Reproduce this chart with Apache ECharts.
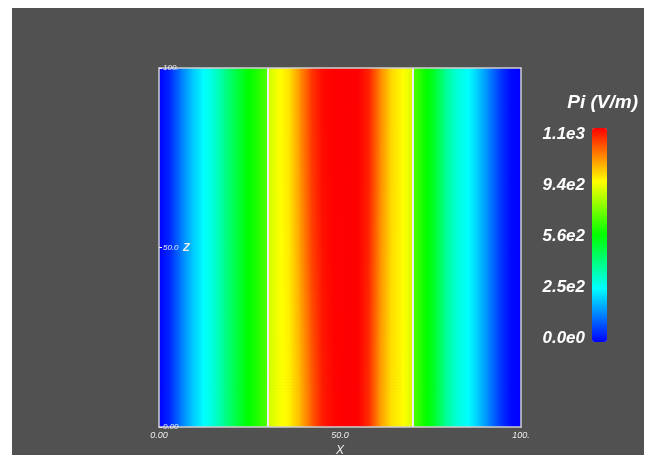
<!DOCTYPE html>
<html><head><meta charset="utf-8">
<script src="https://cdn.jsdelivr.net/npm/echarts@6/dist/echarts.min.js"></script>
<style>html,body{margin:0;padding:0;background:#fff}#c{width:651px;height:462px}</style>
</head><body><div id="c"></div>
<script>
// sample positions along X (duplicated near 30 and 70: material boundaries)
const xs = [0, 3, 6, 9, 12, 15, 18, 21, 24, 27, 29.99, 30.01, 33, 36, 39, 42, 45, 48, 50,
            52, 55, 58, 61, 64, 67, 69.99, 70.01, 73, 76, 79, 82, 85, 88, 91, 94, 97, 100];
// Z positions of the sampled rows (top to bottom)
const zRows = [100, 90, 70, 50, 30, 10, 0];
// Pi (V/m) values read per row
const rowZ90 = [0, 44, 132, 209, 270, 319, 396, 473, 539, 583, 638, 770, 820, 858, 946, 1040, 1089, 1100, 1100,
                1100, 1100, 1062, 957, 869, 831, 781, 638, 572, 506, 396, 319, 281, 220, 143, 66, 11, 0];
const rowZ70 = [0, 44, 132, 209, 270, 319, 396, 473, 539, 583, 638, 770, 819, 855, 940, 1033, 1086, 1100, 1100,
                1100, 1100, 1060, 953, 868, 831, 781, 638, 572, 506, 396, 319, 281, 220, 143, 66, 11, 0];
const rowZ50 = [0, 44, 132, 209, 270, 319, 396, 473, 539, 583, 638, 770, 818, 850, 930, 1025, 1080, 1099, 1100,
                1100, 1100, 1056, 947, 866, 831, 781, 638, 572, 506, 396, 319, 281, 220, 143, 66, 11, 0];
const rowZ30 = [0, 44, 132, 209, 270, 319, 396, 473, 539, 583, 638, 770, 816, 845, 918, 1010, 1075, 1097, 1100,
                1100, 1100, 1053, 941, 863, 831, 781, 638, 572, 506, 396, 319, 281, 220, 143, 66, 11, 0];
const rowZ10 = [0, 44, 132, 209, 270, 319, 396, 473, 539, 583, 638, 770, 815, 840, 905, 995, 1070, 1095, 1100,
                1100, 1100, 1050, 935, 860, 831, 781, 638, 572, 506, 396, 319, 281, 220, 143, 66, 11, 0];
// rows at z = 100 and z = 0 are taken as the nearest read rows
const rows = [rowZ90, rowZ90, rowZ70, rowZ50, rowZ30, rowZ10, rowZ10];
const boundaries = [30, 70];
const xTickLabels = {0: '0.00', 50: '50.0', 100: '100.'};
const zTickLabels = {0: '0.00', 50: '50.0', 100: '100.'};
const cbLabels = ['1.1e3', '9.4e2', '5.6e2', '2.5e2', '0.0e0'];
const vMin = 0, vMax = 1100;

const knots = [0, 0.25, 0.5, 0.75, 1];
const knotCols = [[0,0,255],[0,255,255],[0,255,0],[255,255,0],[255,0,0]];
function jet(t){
  t = Math.max(0, Math.min(1, t));
  let i = Math.min(3, Math.floor(t / 0.25));
  const f = (t - knots[i]) / 0.25;
  const a = knotCols[i], b = knotCols[i+1];
  const c = a.map((v, k) => Math.round(v + (b[k] - v) * f));
  return 'rgb(' + c.join(',') + ')';
}

// each cell: [x0, x1, zTop, zBottom, vTopLeft, vTopRight, vBottomLeft, vBottomRight]
const data = [];
for (let r = 0; r < zRows.length - 1; r++) {
  for (let i = 0; i < xs.length - 1; i++) {
    if (xs[i+1] - xs[i] < 0.1) continue;
    data.push([xs[i], xs[i+1], zRows[r], zRows[r+1], rows[r][i], rows[r][i+1], rows[r+1][i], rows[r+1][i+1]]);
  }
}

function gradFill(t0, t1){
  const stops = [{offset: 0, color: jet(t0)}];
  knots.forEach(k => { if ((k - t0) * (k - t1) < 0) stops.push({offset: (k - t0) / (t1 - t0), color: jet(k)}); });
  stops.push({offset: 1, color: jet(t1)});
  stops.sort((a, b) => a.offset - b.offset);
  return new echarts.graphic.LinearGradient(0, 0, 1, 0, stops);
}

function renderItem(params, api){
  const x0 = api.value(0), x1 = api.value(1), zt = api.value(2), zb = api.value(3);
  const n = v => (v - vMin) / (vMax - vMin);
  const a0 = n(api.value(4)), a1 = n(api.value(5)), b0 = n(api.value(6)), b1 = n(api.value(7));
  const p0 = api.coord([x0, zt]), p1 = api.coord([x1, zb]);
  const exR = x1 < 100 ? 0.7 : 0;
  const H = p1[1] - p0[1];
  const same = a0 === b0 && a1 === b1;
  const N = same ? 1 : Math.max(1, Math.round(H / 3));
  const children = [];
  for (let k = 0; k < N; k++) {
    const f = (k + 0.5) / N;
    const t0 = a0 + (b0 - a0) * f, t1 = a1 + (b1 - a1) * f;
    const y = p0[1] + H * k / N;
    const h = H / N + (zb > 0 || k < N - 1 ? 0.7 : 0);
    children.push({type: 'rect', shape: {x: p0[0], y: y, width: p1[0] - p0[0] + exR, height: h},
                   style: {fill: gradFill(t0, t1)}});
  }
  return {type: 'group', children: children};
}

const FONT = '"Liberation Sans", Arial, sans-serif';
const cbTop = 134, cbStep = 51;
const graphics = [
  {type: 'rect', z: -10, shape: {x: 12, y: 8, width: 632, height: 447}, style: {fill: '#515151'}},
  {type: 'text', z: 100, x: 638, y: 103, style: {text: 'Pi (V/m)', fill: '#ffffff', font: 'italic bold 19px ' + FONT, textAlign: 'right', textVerticalAlign: 'middle'}}
];
cbLabels.forEach((s, i) => graphics.push({type: 'text', z: 100, x: 585, y: cbTop + i * cbStep,
  style: {text: s, fill: '#ffffff', font: 'italic bold 17px ' + FONT, textAlign: 'right', textVerticalAlign: 'middle'}}));

const chart = echarts.init(document.getElementById('c'), null, {renderer: 'canvas'});
chart.setOption({
  animation: false,
  backgroundColor: '#ffffff',
  grid: {left: 159, top: 68, width: 362, height: 360, show: false},
  xAxis: [{
    type: 'value', min: 0, max: 100, interval: 50, z: 10,
    axisLine: {show: true, onZero: false, lineStyle: {color: '#cfcfcf', width: 1.5}},
    axisTick: {show: false}, splitLine: {show: false},
    axisLabel: {margin: 4, color: '#eeeeee', fontStyle: 'italic', fontSize: 9, fontFamily: FONT,
                formatter: v => xTickLabels[v] || ''},
    name: 'X', nameLocation: 'middle', nameGap: 17,
    nameTextStyle: {color: '#eeeeee', fontStyle: 'italic', fontSize: 12, fontFamily: FONT}
  }, {
    type: 'value', position: 'top', min: 0, max: 100, z: 10,
    axisLine: {show: true, onZero: false, lineStyle: {color: '#cfcfcf', width: 1.5}},
    axisTick: {show: false}, axisLabel: {show: false}, splitLine: {show: false}
  }],
  yAxis: [{
    type: 'value', min: 0, max: 100, interval: 50, z: 10,
    axisLine: {show: true, onZero: false, lineStyle: {color: '#cfcfcf', width: 1.5}},
    axisTick: {show: true, inside: true, length: 3, lineStyle: {color: '#eeeeee'}}, splitLine: {show: false},
    axisLabel: {inside: true, margin: 4, color: '#eeeeee', fontStyle: 'italic', fontSize: 8, fontFamily: FONT,
                formatter: v => v === 50 ? '{a|' + zTickLabels[v] + '}  {z|Z}' : (zTickLabels[v] || ''),
                rich: {a: {color: '#eeeeee', fontStyle: 'italic', fontSize: 8, fontFamily: FONT},
                       z: {color: '#eeeeee', fontStyle: 'italic', fontWeight: 'bold', fontSize: 11, fontFamily: FONT}}}
  }, {
    type: 'value', position: 'right', min: 0, max: 100, z: 10,
    axisLine: {show: true, onZero: false, lineStyle: {color: '#cfcfcf', width: 1.5}},
    axisTick: {show: false}, axisLabel: {show: false}, splitLine: {show: false}
  }],
  visualMap: {
    type: 'continuous', min: vMin, max: vMax, seriesIndex: 0, dimension: 4,
    left: 592, top: 128, padding: 0, itemWidth: 15, itemHeight: 214,
    calculable: false, hoverLink: false, text: null, showLabel: false,
    inRange: {color: knotCols.map(c => 'rgb(' + c.join(',') + ')')}
  },
  graphic: graphics,
  series: [{
    type: 'custom', xAxisIndex: 0, yAxisIndex: 0, silent: true, clip: true,
    renderItem: renderItem, data: data, encode: {x: [0, 1], y: [2, 3]},
    markLine: {
      silent: true, symbol: 'none', label: {show: false}, animation: false,
      lineStyle: {color: '#eeeeee', width: 2, type: 'solid'},
      data: boundaries.map(b => ({xAxis: b}))
    }
  }]
});
</script></body></html>
